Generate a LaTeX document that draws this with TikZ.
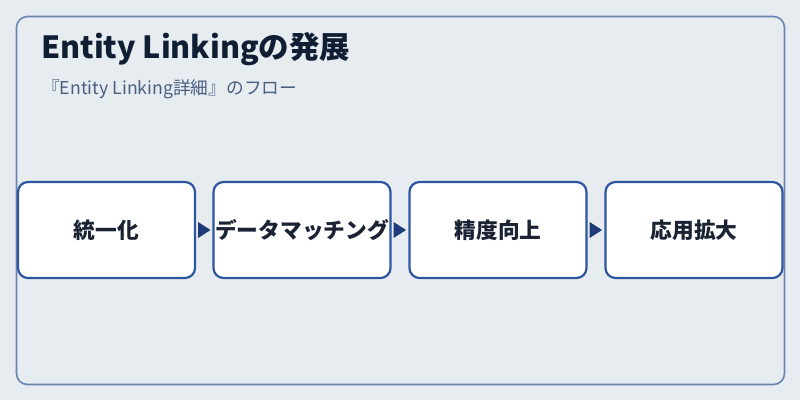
\documentclass[tikz,border=0pt]{standalone}
\usepackage{fontspec}
\setmainfont{Noto Sans CJK JP}
\definecolor{bgc}{HTML}{E7ECF1}
\definecolor{outerc}{HTML}{6A84B0}
\definecolor{boxc}{HTML}{2E559F}
\definecolor{arrc}{HTML}{1E3A78}
\definecolor{titlec}{HTML}{0F1E33}
\definecolor{subc}{HTML}{4A5F80}
\definecolor{textc}{HTML}{1A2233}
\tikzset{
  stepbox/.style={draw=boxc, line width=2.2pt, rounded corners=10pt, fill=white,
    minimum width=177pt, minimum height=96pt, inner sep=0pt,
    font=\fontsize{21.7}{26}\selectfont\bfseries, text=textc},
  arr/.style={draw=none, fill=arrc},
}
\begin{document}
\begin{tikzpicture}[x=1pt,y=-1pt]
\fill[bgc] (0,0) rectangle (800,400);
\useasboundingbox (0,0) rectangle (800,400);
\draw[outerc, line width=1.6pt, rounded corners=11pt] (16.5,16.5) rectangle (784.5,384.5);
\node[anchor=base west, inner sep=0pt, text=titlec, font=\fontsize{30.5}{35}\selectfont\bfseries] (title) at (41,58) {Entity Linkingの発展};
\node[anchor=base west, inner sep=0pt, text=subc, font=\fontsize{17.7}{21}\selectfont] (sub) at (42,94) {『Entity Linking詳細』のフロー};
\node[stepbox] (b1) at (106.5,230) {統一化};
\node[stepbox] (b2) at (302,230) {データマッチング};
\node[stepbox] (b3) at (498,230) {精度向上};
\node[stepbox] (b4) at (694,230) {応用拡大};
\foreach \a/\b in {b1/b2,b2/b3,b3/b4}{
  \path (\a.east) ++(2,0) coordinate (s\a);
  \fill[arr] (s\a) ++(0,-8) -- ++(12.5,8) -- ++(-12.5,8) -- cycle;
}
\end{tikzpicture}
\end{document}
